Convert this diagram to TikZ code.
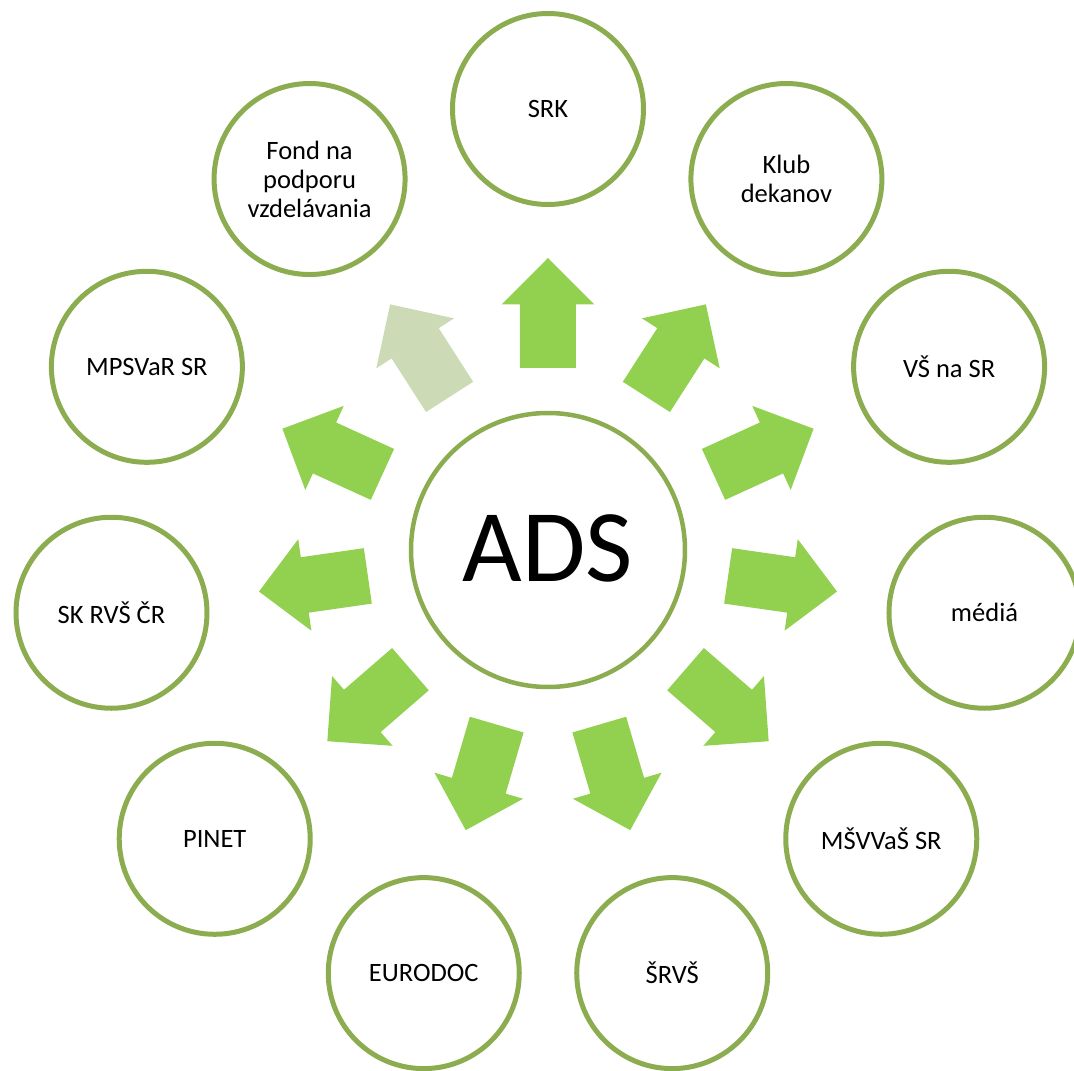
\documentclass[tikz,border=0pt]{standalone}
\usepackage{fontspec}
\setmainfont{Carlito}
\definecolor{ringgreen}{RGB}{140,172,80}
\definecolor{arrowgreen}{RGB}{146,208,80}
\definecolor{fadedgreen}{RGB}{204,219,181}

\begin{document}
\begin{tikzpicture}[x=1pt,y=1pt,
  partner/.style={circle,draw=ringgreen,line width=5pt,minimum size=191pt,
    inner sep=0pt,align=center,font=\fontsize{26.5}{29}\selectfont},
  hub/.style={circle,draw=ringgreen,line width=4.5pt,minimum size=274pt,
    inner sep=0pt,font=\fontsize{103}{110}\selectfont}]
  \useasboundingbox (-548,-521) rectangle (526,550);  %page
  \node[hub] (ads) at (0,0) {\raisebox{3pt}{ADS}};
  \foreach \name/\txt/\col [count=\i from 0] in {srk/SRK/arrowgreen,
      klub/Klub\\dekanov/arrowgreen, vs/VŠ na SR/arrowgreen,
      media/médiá/arrowgreen, msvvas/MŠVVaŠ SR/arrowgreen,
      srvs/ŠRVŠ/arrowgreen, eurodoc/EURODOC/arrowgreen,
      pinet/PINET/arrowgreen, skrvs/SK RVŠ ČR/arrowgreen,
      mpsvar/MPSVaR SR/arrowgreen,
      fond/Fond na\\podporu\\vzdelávania/fadedgreen} {
    \node[partner] (\name) at ({90-\i*360/11}:441) {\txt};
    \fill[\col,rotate={90-\i*360/11}] (182,-28) -- (245.7,-28)
      -- (245.7,-46.2) -- (292,0) -- (245.7,46.2) -- (245.7,28)
      -- (182,28) -- cycle;  %block arrow
  }
\end{tikzpicture}
\end{document}
